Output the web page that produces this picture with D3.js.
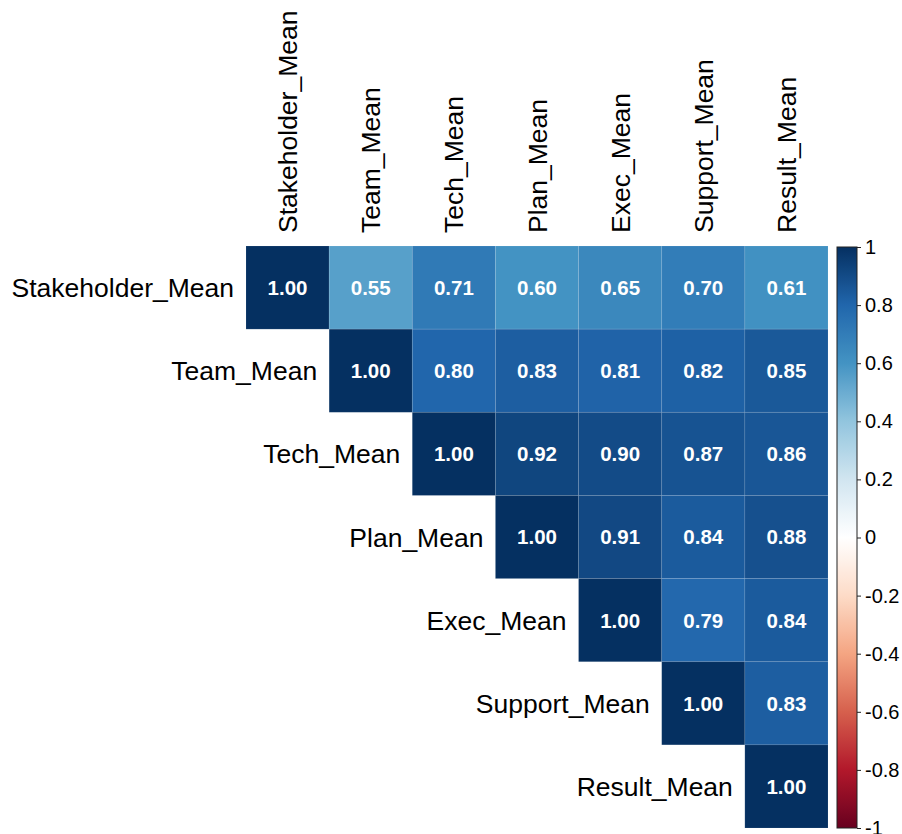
<html>
<head>
  <meta charset="utf-8">
  <script src="https://d3js.org/d3.v7.min.js"></script>
  <style>
    body { margin: 0; background: #fff; }
    text { font-family: "Liberation Sans", Arial, sans-serif; }
  </style>
</head>
<body>
<div id="chart"></div>
<script>
  var vars = ["Stakeholder_Mean", "Team_Mean", "Tech_Mean", "Plan_Mean", "Exec_Mean", "Support_Mean", "Result_Mean"];

  // upper triangle, row by row (starting at the diagonal)
  var row0 = [1.00, 0.55, 0.71, 0.60, 0.65, 0.70, 0.61];
  var row1 = [1.00, 0.80, 0.83, 0.81, 0.82, 0.85];
  var row2 = [1.00, 0.92, 0.90, 0.87, 0.86];
  var row3 = [1.00, 0.91, 0.84, 0.88];
  var row4 = [1.00, 0.79, 0.84];
  var row5 = [1.00, 0.83];
  var row6 = [1.00];
  var rows = [row0, row1, row2, row3, row4, row5, row6];

  var legendTicks = [1, 0.8, 0.6, 0.4, 0.2, 0, -0.2, -0.4, -0.6, -0.8, -1];
  var palette = ["#67001F", "#B2182B", "#D6604D", "#F4A582", "#FDDBC7", "#FFFFFF",
                 "#D1E5F0", "#92C5DE", "#4393C3", "#2166AC", "#053061"];

  var W = 902, H = 834;
  var svg = d3.select("#chart").append("svg").attr("width", W).attr("height", H);

  var x = d3.scaleBand().domain(vars).range([246, 828]);
  var y = d3.scaleBand().domain(vars).range([246, 828]);
  var color = d3.scaleLinear()
    .domain(d3.range(palette.length).map(function(i){ return -1 + 2 * i / (palette.length - 1); }))
    .range(palette).interpolate(d3.interpolateRgb);

  var cells = [];
  rows.forEach(function(r, i){
    r.forEach(function(v, k){
      cells.push({row: vars[i], col: vars[i + k], value: v});
    });
  });

  svg.selectAll("rect.cell").data(cells).enter().append("rect")
    .attr("class", "cell")
    .attr("x", function(d){ return x(d.col); })
    .attr("y", function(d){ return y(d.row); })
    .attr("width", x.bandwidth())
    .attr("height", y.bandwidth())
    .attr("fill", function(d){ return color(d.value); })
    .attr("stroke", "#ffffff").attr("stroke-opacity", 0.12).attr("stroke-width", 0.8);

  svg.selectAll("text.val").data(cells).enter().append("text")
    .attr("class", "val")
    .attr("x", function(d){ return x(d.col) + x.bandwidth() / 2; })
    .attr("y", function(d){ return y(d.row) + y.bandwidth() / 2; })
    .attr("text-anchor", "middle").attr("dy", "0.36em")
    .style("font-size", "20.5px").style("font-weight", "bold").style("fill", "#fff")
    .text(function(d){ return d.value.toFixed(2); });

  // row labels (right aligned before the diagonal)
  svg.selectAll("text.rowlab").data(vars).enter().append("text")
    .attr("class", "rowlab")
    .attr("x", function(d){ return x(d) - 12; })
    .attr("y", function(d){ return y(d) + y.bandwidth() / 2; })
    .attr("text-anchor", "end").attr("dy", "0.36em")
    .style("font-size", "26.5px").style("fill", "#000")
    .text(function(d){ return d; });

  // column labels, rotated
  svg.selectAll("text.collab").data(vars).enter().append("text")
    .attr("class", "collab")
    .attr("transform", function(d){ return "translate(" + (x(d) + x.bandwidth() / 2) + ",233) rotate(-90)"; })
    .attr("dy", "0.36em")
    .style("font-size", "26.5px").style("fill", "#000")
    .text(function(d){ return d; });

  // colour legend
  var lx = 837, lw = 20;
  var ly = d3.scaleLinear().domain([1, -1]).range([247, 828]);
  var defs = svg.append("defs");
  var grad = defs.append("linearGradient").attr("id", "cbar")
    .attr("x1", 0).attr("y1", 0).attr("x2", 0).attr("y2", 1);
  d3.range(0, 101).forEach(function(i){
    var v = 1 - 2 * i / 100;
    grad.append("stop").attr("offset", i + "%").attr("stop-color", color(v));
  });
  svg.append("rect").attr("x", lx).attr("y", ly(1)).attr("width", lw)
    .attr("height", ly(-1) - ly(1)).attr("fill", "url(#cbar)")
    .attr("stroke", "#222").attr("stroke-width", 1);

  var axis = d3.axisRight(ly).tickValues(legendTicks).tickSize(4).tickPadding(4)
    .tickFormat(function(d){ return String(+d.toFixed(1)); });
  var ag = svg.append("g").attr("transform", "translate(" + (lx + lw) + ",0)").call(axis);
  ag.select(".domain").remove();
  ag.selectAll("line").attr("stroke", "#222");
  ag.selectAll("text").style("font-size", "20px").style("fill", "#000")
    .style("font-family", "'Liberation Sans', Arial, sans-serif");
</script>
</body>
</html>
